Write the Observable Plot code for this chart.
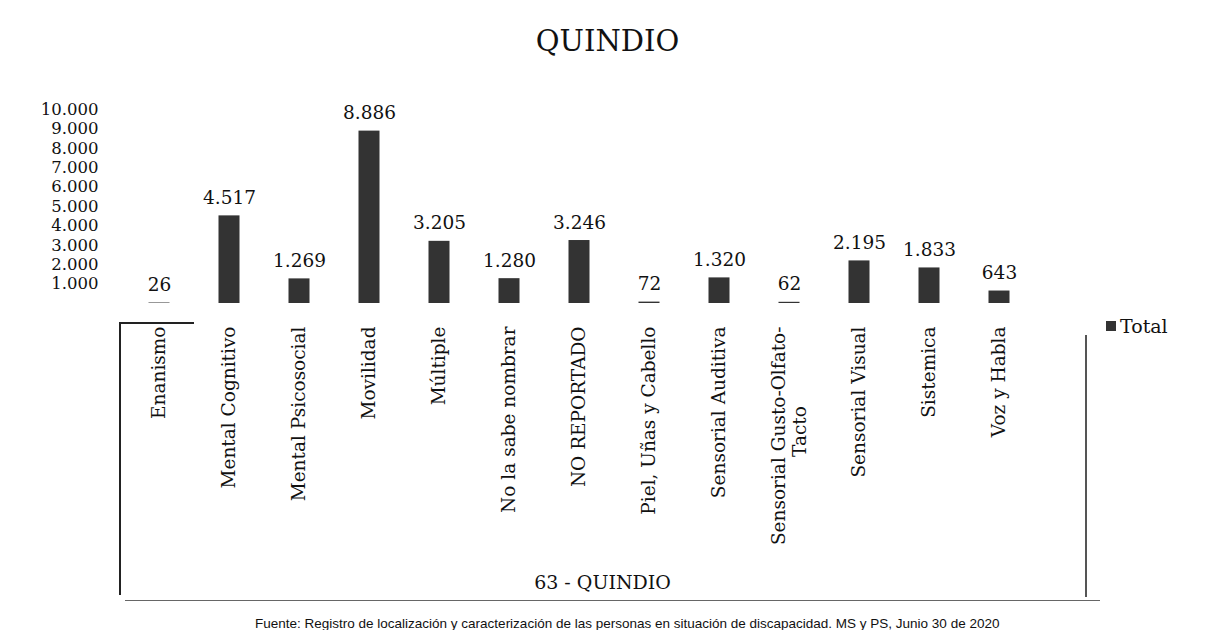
<!DOCTYPE html>
<html>
<head>
<meta charset="utf-8">
<script src="https://cdn.jsdelivr.net/npm/d3@7"></script>
<script src="https://cdn.jsdelivr.net/npm/@observablehq/plot@0.6"></script>
<style>
  html, body { margin: 0; padding: 0; background: #fff; }
  #wrap { position: relative; width: 1215px; height: 630px; overflow: hidden; background: #fff; font-family: "DejaVu Serif", serif; color: #111; }
  #chart { position: absolute; left: 0; top: 0; }
  .abs { position: absolute; }
  #title { left: 0; width: 1215px; top: 24px; text-align: center; font-size: 29px; }
  #legend { left: 1106px; top: 315px; font-size: 19px; display: flex; align-items: center; gap: 4px; }
  #legend .sw { width: 10px; height: 10px; background: #333; display: inline-block; }
  #group { left: 120px; width: 965px; top: 571px; text-align: center; font-size: 19px; }
  #caption { left: 255px; top: 616px; font-family: "Liberation Sans", Arial, sans-serif; font-size: 13.5px; white-space: nowrap; }
  .ln { position: absolute; background: #222; }
  #chart svg g[aria-label="y-axis tick label"] text { letter-spacing: 1.2px; }
</style>
</head>
<body>
<div id="wrap">
  <div id="title" class="abs"></div>
  <div id="chart"></div>
  <div class="ln" style="left:119px; top:322px; width:75px; height:1.5px;"></div>
  <div class="ln" style="left:119px; top:322px; width:1.5px; height:273px;"></div>
  <div class="ln" style="left:1085px; top:335px; width:1.5px; height:262px; background:#555;"></div>
  <div class="ln" style="left:125px; top:600px; width:975px; height:1px; background:#666;"></div>
  <div id="legend" class="abs"><span class="sw"></span><span id="legtext"></span></div>
  <div id="group" class="abs"></div>
  <div id="caption" class="abs"></div>
</div>
<script>
const title = "QUINDIO";
const groupLabel = "63 - QUINDIO";
const seriesName = "Total";
const caption = "Fuente: Registro de localización y caracterización de las personas en situación de discapacidad. MS y PS, Junio 30 de 2020";
const categories = ["Enanismo", "Mental Cognitivo", "Mental Psicosocial", "Movilidad", "Múltiple", "No la sabe nombrar", "NO REPORTADO", "Piel, Uñas y Cabello", "Sensorial Auditiva", "Sensorial Gusto-Olfato-\nTacto", "Sensorial Visual", "Sistemica", "Voz y Habla"];
const values = [26, 4517, 1269, 8886, 3205, 1280, 3246, 72, 1320, 62, 2195, 1833, 643];
const yTicks = [1000, 2000, 3000, 4000, 5000, 6000, 7000, 8000, 9000, 10000];

const fmt = d3.formatLocale({decimal: ",", thousands: ".", grouping: [3], currency: ["$", ""]}).format(",d");
const data = categories.map((c, i) => ({cat: c, value: values[i]}));
const single = categories.filter(c => !c.includes("\n"));
const multi = categories.filter(c => c.includes("\n")).map(c => ({cat: c, l1: c.split("\n")[0], l2: c.split("\n")[1]}));

document.getElementById("title").textContent = title;
document.getElementById("group").textContent = groupLabel;
document.getElementById("legtext").textContent = seriesName;
document.getElementById("caption").textContent = caption;

const chart = Plot.plot({
  width: 1215,
  height: 630,
  marginTop: 109,
  marginBottom: 327,
  marginLeft: 120,
  marginRight: 177,
  style: {fontFamily: "DejaVu Serif", fontSize: "18px", color: "#111", background: "transparent"},
  x: {domain: categories, padding: 0, axis: null},
  y: {domain: [0, 10000], axis: null},
  marks: [
    Plot.barY(data, {x: "cat", y: "value", fill: "#333", insetLeft: 24.5, insetRight: 24.5}),
    Plot.text(data, {x: "cat", y: "value", text: d => fmt(d.value), lineAnchor: "bottom", dy: -12, fontSize: 18.5, fill: "#111"}),
    Plot.axisY({ticks: yTicks, tickSize: 0, tickPadding: 22, tickFormat: fmt, fontSize: 16.5, fill: "#111", label: null, ariaLabel: "y-axis tick label"}),
    Plot.text(single, {x: d => d, frameAnchor: "bottom", text: d => d, rotate: -90, textAnchor: "end", lineAnchor: "middle", dy: 23, fontSize: 18.5, fill: "#111"}),
    Plot.text(multi, {x: "cat", frameAnchor: "bottom", text: "l1", rotate: -90, textAnchor: "end", lineAnchor: "middle", dy: 23, dx: -10, fontSize: 18.5, fill: "#111"}),
    Plot.text(multi, {x: "cat", frameAnchor: "bottom", text: "l2", rotate: -90, textAnchor: "middle", lineAnchor: "middle", dy: 128, dx: 11, fontSize: 18.5, fill: "#111"})
  ]
});
document.getElementById("chart").appendChild(chart);
</script>
</body>
</html>
